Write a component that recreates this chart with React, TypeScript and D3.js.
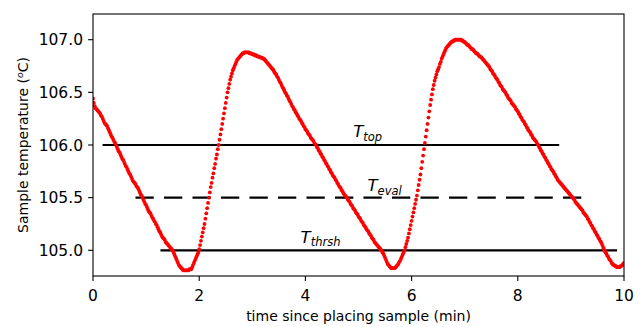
import React from "react"
import * as d3 from "d3"

// sample temperature, one reading per second, 0..600 s
const temperature: number[] = [
  106.44, 106.4, 106.37, 106.35, 106.34, 106.33, 106.32, 106.31, 106.3, 106.28, 106.27, 106.25, 106.23, 106.21, 106.2, 106.19, 106.18, 106.16, 106.14, 106.12,
  106.1, 106.08, 106.07, 106.05, 106.03, 106.02, 106.0, 105.98, 105.96, 105.94, 105.93, 105.91, 105.89, 105.87, 105.86, 105.84, 105.82, 105.8, 105.79, 105.77,
  105.75, 105.73, 105.72, 105.7, 105.68, 105.66, 105.65, 105.64, 105.63, 105.61, 105.6, 105.59, 105.57, 105.55, 105.53, 105.52, 105.5, 105.48, 105.46, 105.44,
  105.43, 105.41, 105.39, 105.37, 105.36, 105.35, 105.33, 105.31, 105.3, 105.28, 105.27, 105.25, 105.24, 105.22, 105.2, 105.18, 105.17, 105.15, 105.13, 105.12,
  105.11, 105.1, 105.08, 105.07, 105.06, 105.05, 105.04, 105.03, 105.02, 105.01, 105.0, 104.98, 104.96, 104.94, 104.92, 104.9, 104.88, 104.86, 104.85, 104.84,
  104.83, 104.82, 104.81, 104.81, 104.81, 104.81, 104.81, 104.81, 104.81, 104.82, 104.82, 104.82, 104.84, 104.86, 104.88, 104.9, 104.92, 104.94, 104.96, 104.98,
  105.01, 105.05, 105.09, 105.13, 105.17, 105.21, 105.25, 105.3, 105.35, 105.4, 105.45, 105.5, 105.55, 105.6, 105.64, 105.69, 105.73, 105.78, 105.82, 105.87,
  105.91, 105.96, 106.0, 106.05, 106.1, 106.15, 106.2, 106.25, 106.3, 106.35, 106.4, 106.45, 106.5, 106.54, 106.58, 106.62, 106.65, 106.68, 106.71, 106.73,
  106.75, 106.77, 106.79, 106.81, 106.82, 106.83, 106.84, 106.85, 106.86, 106.87, 106.87, 106.88, 106.88, 106.88, 106.88, 106.88, 106.88, 106.87, 106.87, 106.87,
  106.86, 106.86, 106.86, 106.85, 106.85, 106.85, 106.84, 106.84, 106.84, 106.83, 106.83, 106.83, 106.82, 106.82, 106.81, 106.8, 106.79, 106.78, 106.77, 106.76,
  106.75, 106.74, 106.73, 106.72, 106.71, 106.69, 106.68, 106.67, 106.65, 106.64, 106.62, 106.6, 106.59, 106.57, 106.55, 106.54, 106.52, 106.5, 106.49, 106.47,
  106.46, 106.44, 106.42, 106.41, 106.39, 106.37, 106.36, 106.34, 106.33, 106.31, 106.3, 106.28, 106.27, 106.25, 106.24, 106.23, 106.21, 106.2, 106.18, 106.17,
  106.15, 106.14, 106.13, 106.11, 106.1, 106.09, 106.07, 106.06, 106.05, 106.04, 106.02, 106.01, 106.0, 105.98, 105.97, 105.95, 105.94, 105.92, 105.91, 105.89,
  105.88, 105.86, 105.85, 105.83, 105.82, 105.8, 105.79, 105.77, 105.76, 105.74, 105.73, 105.71, 105.7, 105.69, 105.67, 105.66, 105.64, 105.63, 105.61, 105.6,
  105.59, 105.57, 105.56, 105.54, 105.53, 105.52, 105.51, 105.5, 105.48, 105.47, 105.46, 105.44, 105.43, 105.42, 105.4, 105.39, 105.38, 105.36, 105.35, 105.34,
  105.32, 105.31, 105.3, 105.28, 105.27, 105.26, 105.24, 105.23, 105.22, 105.2, 105.19, 105.18, 105.16, 105.15, 105.14, 105.12, 105.11, 105.1, 105.08, 105.07,
  105.06, 105.05, 105.04, 105.03, 105.02, 105.01, 105.0, 104.98, 104.97, 104.95, 104.93, 104.91, 104.89, 104.87, 104.86, 104.85, 104.84, 104.83, 104.83, 104.83,
  104.83, 104.83, 104.84, 104.85, 104.86, 104.87, 104.89, 104.9, 104.92, 104.94, 104.96, 104.98, 105.0, 105.03, 105.06, 105.09, 105.12, 105.16, 105.2, 105.24,
  105.28, 105.32, 105.36, 105.4, 105.44, 105.48, 105.52, 105.57, 105.62, 105.67, 105.72, 105.78, 105.84, 105.9, 105.96, 106.02, 106.08, 106.14, 106.2, 106.26,
  106.32, 106.38, 106.43, 106.48, 106.53, 106.57, 106.61, 106.64, 106.67, 106.7, 106.72, 106.74, 106.77, 106.79, 106.82, 106.84, 106.86, 106.88, 106.9, 106.92,
  106.93, 106.94, 106.95, 106.96, 106.97, 106.98, 106.98, 106.99, 106.99, 107.0, 107.0, 107.0, 107.0, 107.0, 107.0, 107.0, 107.0, 106.99, 106.99, 106.98,
  106.98, 106.97, 106.96, 106.95, 106.95, 106.94, 106.93, 106.92, 106.91, 106.91, 106.9, 106.89, 106.88, 106.87, 106.87, 106.86, 106.85, 106.84, 106.84, 106.83,
  106.82, 106.81, 106.8, 106.79, 106.78, 106.77, 106.76, 106.75, 106.74, 106.72, 106.71, 106.7, 106.68, 106.67, 106.66, 106.64, 106.63, 106.62, 106.6, 106.59,
  106.57, 106.56, 106.55, 106.53, 106.52, 106.51, 106.5, 106.48, 106.47, 106.45, 106.44, 106.43, 106.42, 106.4, 106.39, 106.38, 106.37, 106.36, 106.34, 106.33,
  106.32, 106.3, 106.29, 106.27, 106.26, 106.24, 106.23, 106.22, 106.2, 106.19, 106.17, 106.16, 106.14, 106.13, 106.12, 106.1, 106.09, 106.07, 106.06, 106.05,
  106.04, 106.03, 106.01, 106.0, 105.98, 105.97, 105.95, 105.94, 105.92, 105.91, 105.89, 105.88, 105.86, 105.85, 105.83, 105.82, 105.8, 105.79, 105.77, 105.76,
  105.75, 105.73, 105.72, 105.7, 105.69, 105.67, 105.66, 105.65, 105.64, 105.63, 105.62, 105.61, 105.6, 105.59, 105.58, 105.57, 105.56, 105.55, 105.54, 105.53,
  105.52, 105.51, 105.5, 105.49, 105.48, 105.46, 105.45, 105.44, 105.43, 105.42, 105.41, 105.4, 105.39, 105.38, 105.36, 105.35, 105.34, 105.33, 105.32, 105.3,
  105.29, 105.27, 105.26, 105.24, 105.23, 105.21, 105.2, 105.18, 105.17, 105.15, 105.14, 105.12, 105.11, 105.09, 105.08, 105.06, 105.04, 105.02, 105.0, 104.98,
  104.97, 104.95, 104.94, 104.92, 104.91, 104.9, 104.88, 104.87, 104.86, 104.86, 104.85, 104.85, 104.84, 104.84, 104.84, 104.84, 104.85, 104.85, 104.86, 104.87,
  104.88,
]
const sampleSeconds = 1

// reference levels: name, level, start/end time (min), dashed
const levelNames = ["top", "eval", "thrsh"]
const levelValues = [106.0, 105.5, 105.0]
const levelStart = [0.18, 0.8, 1.27]
const levelEnd = [8.78, 9.2, 9.87]
const levelDashed = [false, true, false]
// label anchor (min, degC)
const labelX = [4.9, 5.17, 3.91]
const labelY = [106.072, 105.563, 105.072]

const xTicks = [0, 2, 4, 6, 8, 10]
const yTicks = [105.0, 105.5, 106.0, 106.5, 107.0]

const W = 644
const H = 327
const margin = { left: 93, right: 20, top: 14, bottom: 51 }
const font = "DejaVu Sans, sans-serif"

export default function App() {
  const x = d3.scaleLinear().domain([0, 10]).range([margin.left, W - margin.right])
  const y = d3.scaleLinear().domain([104.756, 107.244]).range([H - margin.bottom, margin.top])
  const fmt = d3.format(".1f")
  const x0 = margin.left
  const x1 = W - margin.right
  const y0 = H - margin.bottom
  const y1 = margin.top

  return (
    <svg width={W} height={H} style={{ position: "absolute", left: 0, top: 0, display: "block", background: "#fff" }} fontFamily={font}>
      <defs>
        <clipPath id="plot">
          <rect x={x0} y={y1} width={x1 - x0} height={y0 - y1} />
        </clipPath>
      </defs>
      <rect width={W} height={H} fill="#fff" />

      {/* reference lines */}
      {levelValues.map((v, i) => (
        <line
          key={levelNames[i]}
          x1={x(levelStart[i])}
          x2={x(levelEnd[i])}
          y1={y(v)}
          y2={y(v)}
          stroke="#000"
          strokeWidth={2.2}
          strokeDasharray={levelDashed[i] ? "18.3,10.2" : undefined}
        />
      ))}

      {/* temperature samples */}
      <g clipPath="url(#plot)" fill="#ff0000">
        {temperature.map((t, i) => (
          <circle key={i} cx={x((i * sampleSeconds) / 60)} cy={y(t)} r={1.9} />
        ))}
      </g>

      {/* level labels */}
      {levelNames.map((n, i) => (
        <text key={n} x={x(labelX[i])} y={y(labelY[i])} fontStyle="italic" fontSize={16.5} fill="#000">
          T<tspan fontSize={11.5} dy={3.5}>{n}</tspan>
        </text>
      ))}

      {/* axes frame */}
      <rect x={x0} y={y1} width={x1 - x0} height={y0 - y1} fill="none" stroke="#000" strokeWidth={1.1} />

      {/* x ticks */}
      {xTicks.map((t) => (
        <g key={t}>
          <line x1={x(t)} x2={x(t)} y1={y0} y2={y0 + 4.9} stroke="#000" strokeWidth={1.1} />
          <text x={x(t)} y={y0 + 25} textAnchor="middle" fontSize={15.5} fill="#000">
            {t}
          </text>
        </g>
      ))}

      {/* y ticks */}
      {yTicks.map((t) => (
        <g key={t}>
          <line x1={x0 - 4.9} x2={x0} y1={y(t)} y2={y(t)} stroke="#000" strokeWidth={1.1} />
          <text x={x0 - 10} y={y(t) + 5.6} textAnchor="end" fontSize={15.5} fill="#000">
            {fmt(t)}
          </text>
        </g>
      ))}

      <text x={(x0 + x1) / 2} y={321} textAnchor="middle" fontSize={14} fill="#000">
        time since placing sample (min)
      </text>
      <text transform={`translate(28,${(y0 + y1) / 2}) rotate(-90)`} textAnchor="middle" fontSize={14} fill="#000">
        Sample temperature (<tspan fontSize={9.5} dy={-5.5} fontStyle="italic">o</tspan>
        <tspan dy={5.5}>C)</tspan>
      </text>
    </svg>
  )
}
